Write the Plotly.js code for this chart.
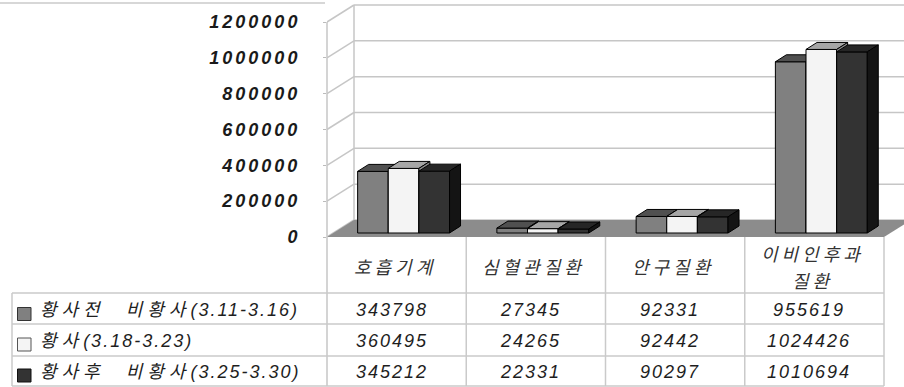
<!DOCTYPE html>
<html><head><meta charset="utf-8">
<script src="https://cdn.plot.ly/plotly-3.0.1.min.js"></script>
<style>
html,body{margin:0;padding:0;background:#fff;}
#chart{width:904px;height:387px;}
.ytick text{letter-spacing:3px;}
</style></head><body><div id="chart"></div>
<script>
// ---- data ----
const categories = ['호흡기계', '심혈관질환', '안구질환', '이비인후과<br>질환'];
const seriesNames = ['황사전   비황사(3.11-3.16)', '황사(3.18-3.23)', '황사후   비황사(3.25-3.30)'];
const beforeVals = [343798, 27345, 92331, 955619];
const duringVals = [360495, 24265, 92442, 1024426];
const afterVals  = [345212, 22331, 90297, 1010694];
const yTicks = [0, 200000, 400000, 600000, 800000, 1000000, 1200000];
const yTickText = ['0', '200000', '400000', '600000', '800000', '1000000', '1200000'];

// ---- geometry / style ----
const W = 904, H = 387, L = 327, PB = 237;
const catPx = 139.25, valPerPx = 1e6 / 179.17;
const xMin = -0.5, xMax = -0.5 + (W - L) / catPx;
const yMax = PB * valPerPx;
const px2x = p => p / catPx, px2y = p => p * valPerPx;
const paperX = p => (p - L) / (W - L), paperY = p => (PB - p) / PB;
const wallDx = px2x(27), wallDy = px2y(17);
const frontDx = px2x(6.4), frontDy = px2y(4);
const depthDx = px2x(11), depthDy = px2y(7);
const bw = 0.22, shift = 0.004;
const frontCol = ['#808080', '#f4f4f4', '#333333'];
const topCol = ['#505050', '#a6a6a6', '#262626'];
const sideCol = ['#3a3a3a', '#8a8a8a', '#141414'];
const gridCol = '#c6c6c6', tableCol = '#cacaca';

const series = [beforeVals, duringVals, afterVals];
const traces = [];
series.forEach((vals, j) => {
  const faces = {front: {x: [], y: []}, top: {x: [], y: []}, side: {x: [], y: []}};
  vals.forEach((v, i) => {
    const x0 = i + (j - 1) * bw + shift - bw / 2 + frontDx, x1 = x0 + bw;
    const yb = frontDy, yt = v + frontDy;
    const push = (f, xs, ys) => { f.x.push(...xs, xs[0], null); f.y.push(...ys, ys[0], null); };
    push(faces.front, [x0, x1, x1, x0], [yb, yb, yt, yt]);
    push(faces.top, [x0, x1, x1 + depthDx, x0 + depthDx], [yt, yt, yt + depthDy, yt + depthDy]);
    push(faces.side, [x1, x1 + depthDx, x1 + depthDx, x1], [yb, yb + depthDy, yt + depthDy, yt]);
  });
  [['front', frontCol[j]], ['top', topCol[j]], ['side', sideCol[j]]].forEach(([k, c]) => {
    traces.push({type: 'scatter', mode: 'lines', x: faces[k].x, y: faces[k].y, fill: 'toself',
      fillcolor: c, line: {color: '#000', width: 1}, hoverinfo: 'skip', showlegend: false,
      name: seriesNames[j], connectgaps: false});
  });
});

const shapes = [];
const line = (o) => shapes.push(Object.assign({type: 'line', line: {color: gridCol, width: 1.5}, layer: 'below'}, o));
yTicks.forEach(v => {
  line({xref: 'x', yref: 'y', x0: xMin, y0: v, x1: xMin + wallDx, y1: v + wallDy});
  line({xref: 'x', yref: 'y', x0: xMin + wallDx, y0: v + wallDy, x1: xMax + 1, y1: v + wallDy});
});
line({xref: 'x', yref: 'y', x0: xMin + wallDx, y0: wallDy, x1: xMin + wallDx, y1: yTicks[yTicks.length - 1] + wallDy});
// floor
shapes.push({type: 'path', xref: 'x', yref: 'y', layer: 'below', fillcolor: '#8c8c8c', line: {width: 0},
  path: `M${xMin},0 L${3.5},0 L${3.5 + wallDx},${wallDy} L${xMin + wallDx},${wallDy} Z`});
// front vertical edge down through table
const tl = (o) => shapes.push(Object.assign({type: 'line', xref: 'paper', yref: 'paper', line: {color: tableCol, width: 1.5}}, o));
tl({x0: 0, x1: 0, y0: paperY(386), y1: yTicks[yTicks.length - 1] / yMax, line: {color: gridCol, width: 1.5}});
tl({x0: paperX(0), x1: paperX(325), y0: paperY(3), y1: paperY(3)});
// table
[293, 324, 356, 386].forEach(py => tl({x0: paperX(12), x1: paperX(L + 4 * catPx), y0: paperY(py), y1: paperY(py)}));
tl({x0: paperX(12), x1: paperX(12), y0: paperY(293), y1: paperY(386)});
for (let k = 1; k <= 4; k++) tl({x0: paperX(L + k * catPx), x1: paperX(L + k * catPx), y0: paperY(237), y1: paperY(386)});
const rowCenters = [310, 340.5, 371.5];
const legBorder = ['#333', '#555', '#111'];
rowCenters.forEach((cy, j) => shapes.push({type: 'rect', xref: 'paper', yref: 'paper',
  x0: paperX(17.5), x1: paperX(31), y0: paperY(cy + 10.5), y1: paperY(cy - 2.5),
  fillcolor: frontCol[j], line: {color: legBorder[j], width: 1}}));

const annotations = [];
const hangulWrap = s => s.replace(/ /g, '\u00a0').replace(/([\uac00-\ud7a3]+)|([^\uac00-\ud7a3]+)/g,
  (m, k, o) => k ? `<span style="letter-spacing:5px">${k}</span>` : `<span style="letter-spacing:2px">${o}</span>`);
const cellFont = {family: 'Liberation Sans, Arial, Noto Sans CJK KR', size: 18, style: 'italic', color: '#1e1e1e'};
const headFont = {family: 'Noto Sans CJK KR', size: 18, style: 'italic', color: '#333'};
const headCenter = 266, headLineGap = 27;
categories.forEach((c, i) => {
  const lines = c.split('<br>');
  lines.forEach((s, k) => annotations.push({xref: 'x', yref: 'paper', x: i,
    y: paperY(headCenter + (k - (lines.length - 1) / 2) * headLineGap), yanchor: 'middle', xshift: -2,
    showarrow: false, text: `<span style="letter-spacing:4px">${s}</span>`, font: headFont}));
  series.forEach((vals, j) => annotations.push({xref: 'x', yref: 'paper', x: i, y: paperY(rowCenters[j]),
    yanchor: 'middle', xshift: -5, showarrow: false, text: `<span style="letter-spacing:2px">${vals[i]}</span>`, font: cellFont}));
});
seriesNames.forEach((n, j) => annotations.push({xref: 'paper', yref: 'paper', x: paperX(38), xanchor: 'left',
  y: paperY(rowCenters[j]), yanchor: 'middle', showarrow: false, text: hangulWrap(n), font: cellFont}));

const layout = {
  width: W, height: H, margin: {l: L, r: 0, t: 0, b: H - PB, pad: 0},
  paper_bgcolor: '#fff', plot_bgcolor: 'rgba(0,0,0,0)', showlegend: false,
  xaxis: {range: [xMin, xMax], visible: false, fixedrange: true},
  yaxis: {range: [0, yMax], tickmode: 'array', tickvals: yTicks, ticktext: yTickText, showgrid: false,
    zeroline: false, showline: false, ticks: 'outside', ticklen: 3, tickcolor: '#bbb', tickwidth: 1,
    ticklabelstandoff: 19, fixedrange: true,
    tickfont: {family: 'Liberation Sans, Arial', size: 18, weight: 'bold', style: 'italic', color: '#1a1a1a'}},
  shapes, annotations
};
Plotly.newPlot('chart', traces, layout, {displayModeBar: false, staticPlot: true});
</script></body></html>
